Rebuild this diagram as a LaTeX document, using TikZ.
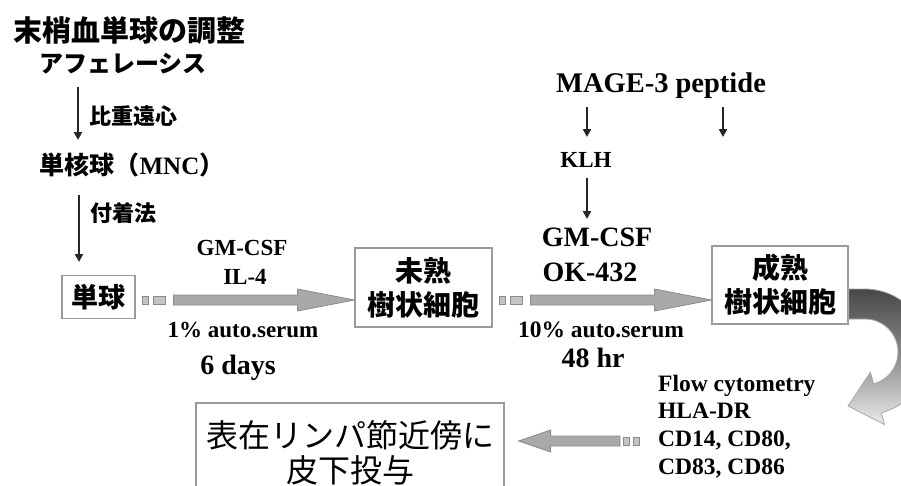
\documentclass[tikz,border=0pt]{standalone}
\usepackage{fontspec}
\setmainfont{Liberation Serif}
\newfontfamily\jp{Noto Sans CJK JP}
\usetikzlibrary{calc,arrows.meta}
\definecolor{boxc}{HTML}{9A9A9A}
\definecolor{blkfill}{HTML}{A9A9A9}
\definecolor{blkdraw}{HTML}{8A8A8A}
\definecolor{sqfill}{HTML}{C4C4C4}
\newcommand\blockarrowR[2]{%
  \draw[sqs] let \p1=(#1) in (\x1+7pt,\y1-4pt) rectangle (\x1+13pt,\y1+4pt);
  \draw[sqs] let \p1=(#1) in (\x1+18pt,\y1-4pt) rectangle (\x1+30pt,\y1+4pt);
  \draw[blk] let \p1=(#1), \p2=(#2) in
    (\x1+38pt,\y1+5pt) -- (\x2-57pt,\y1+5pt) -- (\x2-57pt,\y1+11pt) -- (\x2,\y1)
    -- (\x2-57pt,\y1-11pt) -- (\x2-57pt,\y1-5pt) -- (\x1+38pt,\y1-5pt) -- cycle;
}
\begin{document}
\begin{tikzpicture}[x=1pt,y=-1pt,
  en/.style={font=\bfseries\fontsize{#1}{#1}\selectfont, inner sep=0pt},
  jpt/.style={font=\jp\bfseries\fontsize{#1}{#1}\selectfont, inner sep=0pt},
  jptl/.style n args={2}{font=\jp\bfseries\fontsize{#1}{#2}\selectfont, inner sep=0pt},
  box/.style={draw=boxc, line width=1.2pt, align=center},
  arr/.style={-{Triangle[length=8pt,width=8pt]}, line width=2.4pt, draw=black!85},
  sqs/.style={fill=sqfill, draw=blkdraw, line width=0.8pt},
  blk/.style={fill=blkfill, draw=blkdraw, line width=0.8pt}]
\clip (0,0) rectangle (901,485);
\fill[white] (0,0) rectangle (901,485);

% left column
\node[jpt=29] (t1) at (129,30) {末梢血単球の調整};
\node[jpt=24] (t2) at (123,64) {アフェレーシス};
\coordinate (p1) at (78,87);
\coordinate (p2) at (78,140);
\draw[arr] (p1) -- (p2);
\node[jpt=22, anchor=west] (l1) at (89,116) {比重遠心};
\node[jpt=25] (mnc) at (132,165) {単核球（{\rmfamily MNC}）};
\coordinate (p3) at (79,195);
\coordinate (p4) at (79,262);
\draw[arr] (p3) -- (p4);
\node[jpt=22, anchor=west] (l2) at (90,213) {付着法};

% boxes
\node[box, jpt=27, minimum width=73pt, minimum height=43pt] (b1) at (98.5,297) {単球};
\node[box, jptl={28}{34}, minimum width=137pt, minimum height=79pt] (b2) at (423.5,287.5) {未熟\\樹状細胞};
\node[box, jptl={28}{34}, minimum width=136pt, minimum height=78pt] (b3) at (780,285) {成熟\\樹状細胞};
\node[draw=boxc, line width=1.2pt, align=center, inner sep=0pt,
      font=\jp\fontsize{32}{35}\selectfont, minimum width=308pt, minimum height=100pt] (b4) at (350,453) {表在リンパ節近傍に\\皮下投与};

% block arrows
\coordinate (s1) at (b1.east |- 0,300);
\coordinate (e1) at (b2.west |- 0,300);
\blockarrowR{s1}{e1}
\coordinate (s2) at (b2.east |- 0,300);
\coordinate (e2) at (b3.west |- 0,300);
\blockarrowR{s2}{e2}

% first step labels
\node[en=23, anchor=base] (g1) at (242,255.6) {GM-CSF};
\node[en=23, anchor=base] (i1) at (245,284.6) {IL-4};
\node[en=23, anchor=base] (s1l) at (243,337) {1\% auto.serum};
\node[en=28, anchor=base] (d1) at (238,374) {6 days};

% second step labels
\node[en=28.5, anchor=base] (mage) at (661,92.5) {MAGE-3 peptide};
\coordinate (m1) at (587,107);
\coordinate (m2) at (587,137);
\draw[arr] (m1) -- (m2);
\coordinate (m3) at (723,107);
\coordinate (m4) at (723,137);
\draw[arr] (m3) -- (m4);
\node[en=23, anchor=base] (klh) at (586,167.6) {KLH};
\coordinate (k1) at (587,178);
\coordinate (k2) at (587,219);
\draw[arr] (k1) -- (k2);
\node[en=28, anchor=base] (g2) at (597,246) {GM-CSF};
\node[en=28, anchor=base] (ok) at (590,281) {OK-432};
\node[en=23.5, anchor=base] (s2l) at (601,337) {10\% auto.serum};
\node[en=28, anchor=base] (h48) at (593,367) {48 hr};

% flow cytometry block
\node[en=23.5, anchor=base west] (f1) at (658,391) {Flow cytometry};
\node[en=23.5, anchor=base west] (f2) at (658,418) {HLA-DR};
\node[en=23.5, anchor=base west] (f3) at (658,446) {CD14, CD80,};
\node[en=23.5, anchor=base west] (f4) at (658,474) {CD83, CD86};

% curved arrow from mature DC
\path[draw=gray!70, line width=0.8pt, top color=black!72, bottom color=black!8, middle color=black!45]
  (b3.east |- 0,289) -- (865,289)
  -- plot[domain=90:-75, samples=40] ({865+63*cos(\x)},{352-63*sin(\x)})
  -- (884.4,424.5) -- (848,406) -- (870.4,372.3)
  -- plot[domain=-75:90, samples=40] ({865+33*cos(\x)},{352-33*sin(\x)})
  -- (b3.east |- 0,319) -- cycle;

% bottom arrow (leftwards)
\coordinate (s3) at (645,441);
\coordinate (e3) at ([xshift=14pt]b4.east |- 0,441);
\draw[sqs] let \p1=(s3) in (\x1-22pt,\y1-4pt) rectangle (\x1-16pt,\y1+4pt);
\draw[sqs] let \p1=(s3) in (\x1-12pt,\y1-4pt) rectangle (\x1-6pt,\y1+4pt);
\draw[blk] let \p1=(s3), \p2=(e3) in
  (\x1-25pt,\y1+5pt) -- (\x2+32pt,\y1+5pt) -- (\x2+32pt,\y1+11pt) -- (\x2,\y1)
  -- (\x2+32pt,\y1-11pt) -- (\x2+32pt,\y1-5pt) -- (\x1-25pt,\y1-5pt) -- cycle;
\end{tikzpicture}
\end{document}
